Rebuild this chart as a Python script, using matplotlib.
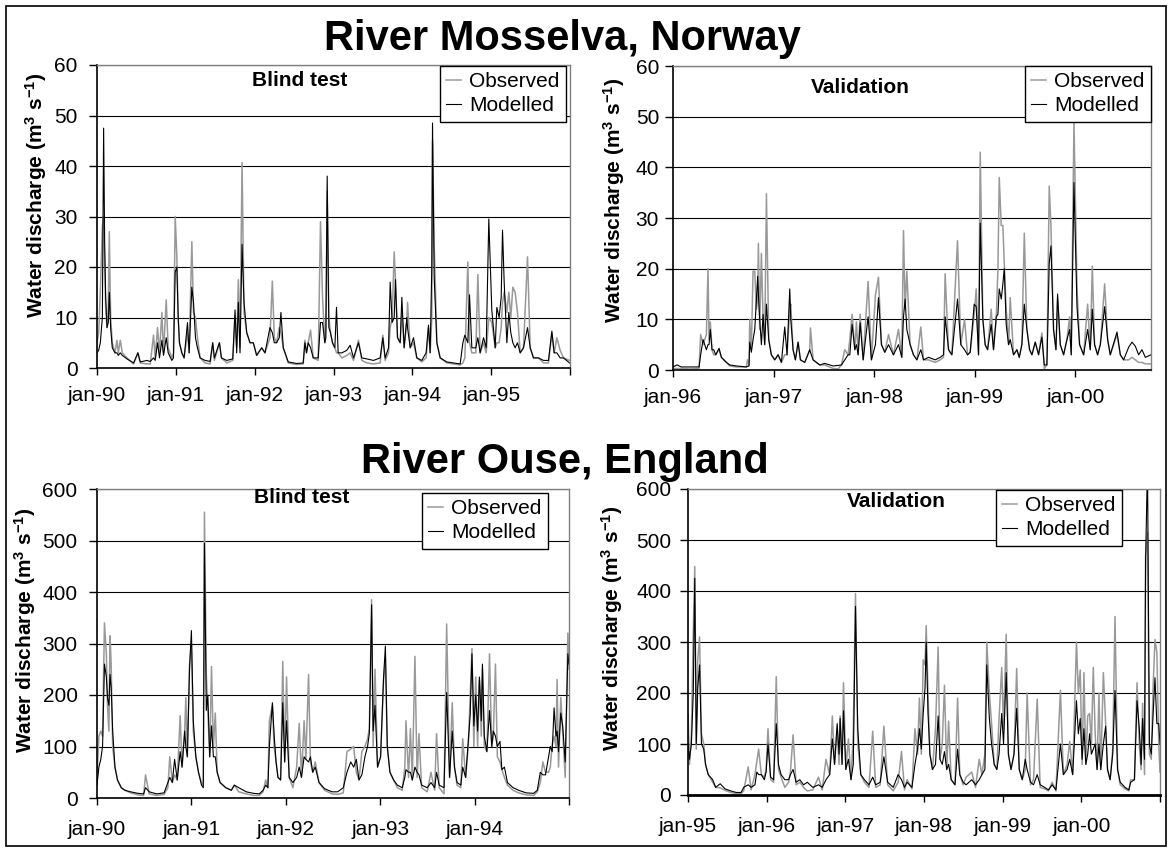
import matplotlib
matplotlib.use('Agg')
import matplotlib.pyplot as plt
from matplotlib.patches import Rectangle

plt.rcParams['font.family'] = 'Liberation Sans'
plt.rcParams['mathtext.fontset'] = 'custom'
plt.rcParams['mathtext.rm'] = 'Liberation Sans:bold'
plt.rcParams['mathtext.it'] = 'Liberation Sans:bold'
plt.rcParams['mathtext.bf'] = 'Liberation Sans:bold'

# ---- River Mosselva, blind test (decimal year, m3/s) ----
mos_blind_t = [1990.000, 1990.021, 1990.042, 1990.068, 1990.084, 1990.097, 1990.110, 1990.127, 1990.143, 1990.156,
               1990.173, 1990.194, 1990.228, 1990.253, 1990.270, 1990.295, 1990.321, 1990.380, 1990.464, 1990.519,
               1990.549, 1990.633, 1990.675, 1990.717, 1990.738, 1990.768, 1990.793, 1990.823, 1990.844, 1990.878,
               1990.903, 1990.949, 1990.970, 1990.992, 1991.013, 1991.030, 1991.046, 1991.076, 1991.105, 1991.148,
               1991.169, 1991.203, 1991.224, 1991.249, 1991.274, 1991.308, 1991.371, 1991.435, 1991.468, 1991.489,
               1991.553, 1991.578, 1991.646, 1991.722, 1991.751, 1991.772, 1991.793, 1991.814, 1991.840, 1991.865,
               1991.899, 1991.941, 1991.983, 1992.025, 1992.089, 1992.131, 1992.194, 1992.224, 1992.249, 1992.278,
               1992.312, 1992.333, 1992.363, 1992.426, 1992.532, 1992.616, 1992.637, 1992.658, 1992.679, 1992.709,
               1992.743, 1992.806, 1992.835, 1992.861, 1992.890, 1992.903, 1992.920, 1992.941, 1992.962, 1992.987,
               1993.017, 1993.038, 1993.059,
               1993.106, 1993.169, 1993.211, 1993.254, 1993.317, 1993.359, 1993.423, 1993.507, 1993.592, 1993.626,
               1993.655, 1993.698, 1993.719, 1993.744, 1993.770, 1993.786, 1993.812, 1993.846, 1993.867, 1993.896,
               1993.930, 1993.939, 1993.973, 1994.015, 1994.057, 1994.120, 1994.175, 1994.205, 1994.226, 1994.247,
               1994.256, 1994.277, 1994.311, 1994.353, 1994.438, 1994.607, 1994.641, 1994.666, 1994.704, 1994.725,
               1994.755, 1994.805, 1994.831, 1994.860, 1994.903, 1994.937, 1994.970, 1995.008, 1995.051, 1995.072,
               1995.101, 1995.127, 1995.144, 1995.165, 1995.199, 1995.224, 1995.249, 1995.275, 1995.304, 1995.334,
               1995.368, 1995.410, 1995.461, 1995.495, 1995.537, 1995.600, 1995.664, 1995.727, 1995.770, 1995.799,
               1995.833, 1995.875, 1995.918, 1995.994]
mos_blind_obs = [5, 7, 15, 28, 30, 20, 12, 8, 12, 27, 10, 5, 3, 5.5, 3, 5.5, 3, 2, 0.8, 3,
                 1, 0.8, 0.8, 6.5, 2, 8, 3, 11, 3, 13.5, 4, 2, 3, 30, 22, 10, 5, 3, 2, 7,
                 3, 25, 11, 10, 6, 2, 1, 0.8, 5, 1.5, 5, 2, 1, 1.5, 10, 4, 17.5, 4, 40.7, 11,
                 7, 5, 5, 2.5, 4, 3, 6, 17.2, 6, 5, 8, 7, 4, 1, 0.7, 0.8, 5.5, 3, 5, 7.5,
                 2, 1.5, 29, 14, 5, 8, 35, 10, 7, 5, 4, 3, 3,
                 2, 2.5, 3, 1.5, 5.5, 1.5, 1, 0.8, 1, 6.5, 1.5, 3, 8, 10, 23, 17.5, 6, 5, 11, 4,
                 9, 13, 4, 5, 2, 1.2, 2, 8, 3, 10, 45, 25, 5, 2, 1, 0.6, 1, 2, 21, 5,
                 3, 3, 18.5, 3, 5, 3, 10, 9, 4, 5, 5, 8, 13, 15, 11, 15, 10, 16, 15, 11,
                 3, 4, 22, 4, 2, 2, 1, 1, 6.8, 3, 6, 3.5, 2, 1.5]
mos_blind_mod = [3, 3.5, 5, 10, 47.5, 25, 14, 8, 9, 15, 8, 4, 3, 3, 2.5, 3, 2.5, 1.8, 1.0, 3,
                 1.2, 1.5, 1.3, 2, 1.5, 5, 2, 5.5, 2.5, 6, 3, 1.5, 2, 19, 20, 10, 5, 3, 2, 9,
                 3, 16, 13, 6, 4, 2, 1.5, 1.3, 5, 2, 5, 2, 1.5, 1.8, 11.5, 3, 13, 3, 24.5, 13,
                 7, 5, 5, 2.5, 4, 3, 8, 7, 5, 5, 6, 11, 4, 1.2, 0.9, 1, 5, 3, 5, 4,
                 2, 2, 9, 9, 5, 6, 38, 8, 7, 5, 4, 12, 3,
                 3, 3.5, 4.5, 2, 5, 2, 1.8, 1.5, 2, 6, 2, 4, 17, 9, 10, 17.5, 6, 5, 14, 4,
                 10, 8, 4, 6, 2, 1.5, 3, 8.5, 3, 20, 48.5, 18, 5, 2, 1.2, 0.8, 5, 6.5, 5, 14.5,
                 4, 4, 6, 3, 6, 4, 29.5, 11.5, 4, 12, 10, 14, 27.3, 17, 5, 11, 7, 5, 4, 5,
                 3, 4, 8, 4, 2, 2, 1.5, 1.5, 7.3, 3, 3, 2, 2, 1]

# ---- River Mosselva, validation ----
mos_valid_t = [1996.000, 1996.040, 1996.083, 1996.166, 1996.259, 1996.275, 1996.299, 1996.315, 1996.332, 1996.348,
               1996.358, 1996.371, 1996.388, 1996.405, 1996.425, 1996.458, 1996.481, 1996.531, 1996.564, 1996.630,
               1996.730, 1996.740, 1996.756, 1996.763, 1996.779, 1996.796, 1996.813, 1996.829, 1996.842, 1996.849,
               1996.862, 1996.879, 1996.896, 1996.912, 1996.929, 1996.952, 1996.978, 1997.012, 1997.045, 1997.078,
               1997.111, 1997.134, 1997.161, 1997.171, 1997.194, 1997.217, 1997.244, 1997.267, 1997.310, 1997.360,
               1997.367, 1997.393, 1997.459, 1997.509, 1997.592, 1997.642, 1997.675, 1997.708, 1997.741, 1997.758,
               1997.781, 1997.808, 1997.824, 1997.841, 1997.861, 1997.891, 1997.940, 1997.973, 1998.013, 1998.043,
               1998.073, 1998.106,
               1998.143, 1998.192, 1998.242, 1998.275, 1998.292, 1998.308, 1998.325, 1998.358, 1998.391, 1998.425,
               1998.464, 1998.491, 1998.541, 1998.607, 1998.657, 1998.690, 1998.706, 1998.740, 1998.773, 1998.829,
               1998.862, 1998.899, 1998.929, 1998.955, 1998.995, 1999.015, 1999.038, 1999.055, 1999.081, 1999.104,
               1999.128, 1999.164, 1999.187, 1999.214, 1999.231, 1999.244, 1999.264, 1999.280, 1999.294, 1999.313,
               1999.337, 1999.353, 1999.386, 1999.420, 1999.443, 1999.469, 1999.493, 1999.519, 1999.546, 1999.569,
               1999.602, 1999.635, 1999.668, 1999.692, 1999.718, 1999.741, 1999.758, 1999.784, 1999.808, 1999.824,
               1999.851, 1999.884, 1999.917, 1999.944, 1999.960, 1999.987, 2000.017, 2000.043, 2000.083, 2000.123,
               2000.149, 2000.169, 2000.192, 2000.222, 2000.249, 2000.292, 2000.322, 2000.348, 2000.415, 2000.448,
               2000.481, 2000.531, 2000.564, 2000.597, 2000.630, 2000.663, 2000.697, 2000.753]
mos_valid_obs = [0.3, 0.3, 0.3, 0.2, 0.3, 7, 5, 6, 7, 20, 6, 9.5, 4, 3, 3, 4, 2.5, 1.5, 0.8, 0.6,
                 0.6, 2, 1, 10, 4, 19.5, 19.5, 12, 14, 25, 8, 23, 10, 5, 34.8, 6, 3, 2, 3, 1.5,
                 3, 3, 12, 13, 4, 2, 5.5, 2, 1.5, 4, 8.3, 2, 1, 1, 0.3, 0.2, 1, 4, 3, 6,
                 11, 4, 9.5, 3, 11, 2, 17.5, 2, 14.8, 18.3, 5, 3.5,
                 7, 3, 8, 2.5, 27.5, 12, 19.5, 5, 3, 2, 8.5, 2, 2, 1.5, 2, 2.5, 19, 4, 3, 25.5,
                 5, 10, 3, 3.5, 11, 16, 3, 43, 10, 5, 4, 12, 4, 10, 20, 38, 28.5, 28.5, 21, 12,
                 5, 14.3, 3, 4, 2.5, 5, 27, 8, 4, 3, 5.5, 3, 7.3, 0.3, 1, 36.3, 28.5, 8, 4, 14,
                 5, 3, 6, 10.5, 3, 49, 16.5, 5, 3, 13, 4, 20.5, 5, 3, 5, 17, 6, 3, 7, 3,
                 2, 2, 2.5, 2, 1.5, 1.5, 1.2, 1.2]
mos_valid_mod = [0.6, 1.0, 0.6, 0.6, 0.6, 3, 6, 5, 4, 5, 5, 8, 4, 4, 3, 4.3, 2.5, 1.5, 1, 0.8,
                 0.6, 0.7, 0.8, 5.5, 3.5, 6, 8, 14, 18.5, 15, 10, 5, 11, 5, 13, 6, 3, 2, 3, 1.5,
                 8.5, 3, 16, 10, 4, 2, 5.5, 2, 1.5, 4, 3.5, 2, 1, 1.3, 0.8, 0.9, 1, 2, 3, 3,
                 9, 4, 5, 3, 9.3, 2, 10.5, 2, 5, 14.3, 5, 3.5,
                 5, 3, 5, 2.5, 10.5, 14, 8, 5, 3, 2, 4, 2, 2.5, 2, 2.5, 3, 10.5, 4, 3, 14,
                 5, 4, 3, 3.5, 13, 12.5, 3, 29, 10, 5, 4, 9, 4, 10.5, 11, 16, 14, 17, 20, 9,
                 5, 6, 3, 4, 2.5, 5, 13, 8, 4, 3, 5.5, 3, 6.5, 1, 1, 21, 24.5, 8, 4, 15,
                 5, 3, 6, 8, 3, 37, 12.5, 5, 3, 8, 4, 12, 5, 3, 5, 12.5, 6, 3, 7.5, 3,
                 2, 4.5, 5.5, 4.7, 3, 4, 2.5, 3]

# ---- River Ouse, blind test ----
ouse_blind_t = [1990.000, 1990.020, 1990.040, 1990.059, 1990.079, 1990.099, 1990.111, 1990.126, 1990.138, 1990.150,
                1990.166, 1990.190, 1990.217, 1990.257, 1990.296, 1990.356, 1990.435, 1990.494, 1990.514, 1990.553,
                1990.632, 1990.711, 1990.751, 1990.771, 1990.798, 1990.822, 1990.850, 1990.881, 1990.901, 1990.929,
                1990.941, 1990.957, 1990.980, 1991.000, 1991.020, 1991.047, 1991.075, 1991.107, 1991.126, 1991.138,
                1991.158, 1991.174, 1991.194, 1991.213, 1991.233, 1991.253, 1991.273, 1991.304, 1991.364, 1991.423,
                1991.455, 1991.502, 1991.581, 1991.660, 1991.719, 1991.759, 1991.787, 1991.810, 1991.826, 1991.858,
                1991.877, 1991.897, 1991.917, 1991.945, 1991.968, 1991.988, 1992.008, 1992.036, 1992.075, 1992.115,
                1992.142, 1992.166, 1992.194, 1992.213, 1992.241, 1992.261, 1992.285, 1992.312, 1992.352, 1992.411,
                1992.490, 1992.549, 1992.609, 1992.648, 1992.688, 1992.719, 1992.747, 1992.775, 1992.806, 1992.838,
                1992.866, 1992.885, 1992.909, 1992.925, 1992.945, 1992.972, 1993.004, 1993.036, 1993.055, 1993.075,
                1993.103, 1993.142, 1993.182, 1993.233, 1993.261, 1993.273, 1993.300, 1993.320, 1993.340, 1993.368,
                1993.391, 1993.411, 1993.439, 1993.498, 1993.538, 1993.577, 1993.597, 1993.625, 1993.676, 1993.704,
                1993.735, 1993.763, 1993.787, 1993.814, 1993.854, 1993.874, 1993.905, 1993.933, 1993.953, 1993.972,
                1993.992, 1994.012, 1994.032, 1994.051, 1994.071, 1994.083, 1994.103, 1994.130, 1994.158, 1994.182,
                1994.198, 1994.221, 1994.241, 1994.269, 1994.289, 1994.316, 1994.348, 1994.407, 1994.466, 1994.545,
                1994.625, 1994.664, 1994.696, 1994.723, 1994.751, 1994.783, 1994.802, 1994.822, 1994.842, 1994.862,
                1994.874, 1994.889, 1994.913, 1994.933, 1994.960, 1994.988, 1995.000]
ouse_blind_obs = [40, 120, 130, 120, 340, 280, 180, 130, 315, 260, 100, 60, 35, 20, 15, 10, 6, 5, 45, 8,
                  5, 7, 20, 80, 30, 45, 35, 160, 60, 130, 195, 80, 260, 300, 130, 80, 50, 30, 25, 555,
                  240, 170, 80, 255, 100, 165, 50, 30, 20, 15, 25, 12, 8, 5, 5, 12, 35, 20, 150, 180,
                  100, 70, 40, 35, 265, 70, 235, 40, 20, 60, 145, 40, 150, 75, 240, 70, 50, 70, 30, 15,
                  8, 7, 10, 90, 95, 100, 50, 35, 90, 100, 115, 135, 385, 100, 250, 60, 80, 230, 270, 100,
                  50, 35, 20, 15, 60, 150, 40, 135, 35, 275, 40, 125, 20, 12, 50, 15, 125, 20, 8, 338,
                  40, 185, 60, 25, 20, 115, 40, 100, 200, 290, 100, 235, 100, 230, 120, 250, 100, 90, 280, 100,
                  120, 260, 80, 70, 55, 40, 25, 15, 10, 6, 5, 12, 30, 70, 50, 50, 60, 105, 120, 100,
                  230, 60, 195, 130, 40, 320, 250]
ouse_blind_mod = [25, 60, 75, 100, 260, 235, 195, 180, 240, 215, 130, 60, 35, 20, 15, 12, 9, 8, 20, 12,
                  8, 10, 30, 40, 30, 75, 35, 90, 60, 130, 100, 80, 250, 325, 150, 80, 50, 25, 20, 495,
                  170, 200, 80, 140, 80, 80, 50, 30, 20, 15, 25, 20, 12, 9, 8, 15, 25, 20, 100, 185,
                  120, 70, 40, 35, 185, 70, 150, 40, 30, 40, 60, 40, 80, 75, 70, 80, 50, 60, 30, 18,
                  12, 12, 20, 50, 70, 60, 75, 35, 45, 80, 100, 125, 375, 130, 180, 60, 80, 235, 295, 100,
                  50, 35, 25, 20, 40, 55, 50, 50, 35, 60, 50, 45, 25, 20, 30, 20, 50, 25, 20, 205,
                  40, 130, 60, 30, 25, 60, 40, 110, 160, 280, 140, 200, 130, 235, 150, 260, 120, 90, 170, 100,
                  130, 120, 100, 110, 55, 60, 30, 20, 15, 10, 9, 15, 50, 45, 45, 80, 100, 90, 175, 120,
                  130, 90, 165, 140, 70, 280, 260]

# ---- River Ouse, validation ----
ouse_valid_t = [1995.000, 1995.019, 1995.043, 1995.067, 1995.086, 1995.105, 1995.124, 1995.147, 1995.171, 1995.200,
                1995.223, 1995.257, 1995.314, 1995.352, 1995.409, 1995.471, 1995.542, 1995.613, 1995.675, 1995.708,
                1995.765, 1995.803, 1995.851, 1995.875, 1995.898, 1995.932, 1995.970, 1995.993, 1996.017, 1996.050,
                1996.088, 1996.122, 1996.150, 1996.183, 1996.231, 1996.279, 1996.302, 1996.336, 1996.374, 1996.421,
                1996.469, 1996.516, 1996.587, 1996.659, 1996.706, 1996.754, 1996.801, 1996.835, 1996.863, 1996.896,
                1996.920, 1996.934, 1996.958, 1996.977, 1997.006, 1997.039, 1997.072, 1997.101, 1997.129, 1997.158,
                1997.196, 1997.243, 1997.300, 1997.348, 1997.386, 1997.443, 1997.490, 1997.538, 1997.609, 1997.671,
                1997.714, 1997.752, 1997.785, 1997.847, 1997.885, 1997.918, 1997.942, 1997.966, 1997.990, 1998.013,
                1998.028, 1998.051, 1998.075, 1998.108, 1998.146, 1998.180, 1998.203, 1998.232, 1998.260, 1998.289,
                1998.313, 1998.346, 1998.394, 1998.427, 1998.455, 1998.498, 1998.536, 1998.607, 1998.655, 1998.702,
                1998.736, 1998.774, 1998.798, 1998.831, 1998.859, 1998.893, 1998.926, 1998.954, 1998.988, 1999.011,
                1999.045, 1999.073, 1999.106, 1999.144, 1999.178, 1999.211, 1999.249, 1999.287, 1999.311, 1999.354,
                1999.392, 1999.439, 1999.477, 1999.534, 1999.582, 1999.629, 1999.677, 1999.734, 1999.772, 1999.819,
                1999.852, 1999.890, 1999.938, 1999.962, 1999.986, 2000.010, 2000.033, 2000.057, 2000.081, 2000.105,
                2000.128, 2000.152, 2000.176, 2000.200, 2000.224, 2000.247, 2000.280, 2000.309, 2000.333, 2000.366,
                2000.399, 2000.428, 2000.461, 2000.494, 2000.556, 2000.604, 2000.627, 2000.675, 2000.708, 2000.737,
                2000.760, 2000.779, 2000.803, 2000.817, 2000.841, 2000.865, 2000.889, 2000.913, 2000.936, 2000.960,
                2000.984, 2001.000]
ouse_valid_obs = [160, 60, 120, 320, 448, 90, 265, 310, 120, 100, 60, 40, 25, 15, 14, 9, 5, 3, 3, 8,
                  55, 10, 40, 65, 90, 40, 35, 50, 130, 30, 25, 232, 50, 35, 15, 25, 45, 118, 20, 25,
                  15, 8, 10, 35, 10, 70, 40, 155, 60, 130, 60, 155, 60, 220, 50, 110, 30, 120, 395, 100,
                  40, 25, 15, 125, 15, 20, 135, 20, 8, 25, 85, 10, 30, 12, 130, 80, 190, 80, 265, 255,
                  332, 200, 80, 50, 130, 290, 70, 100, 215, 50, 145, 30, 20, 190, 40, 20, 35, 45, 15, 70,
                  40, 80, 300, 200, 140, 60, 50, 150, 250, 130, 315, 80, 50, 80, 248, 50, 30, 50, 200, 20,
                  30, 188, 15, 12, 8, 25, 8, 205, 40, 60, 105, 40, 300, 200, 245, 60, 240, 60, 155, 160,
                  100, 250, 120, 50, 200, 50, 240, 140, 50, 30, 90, 350, 50, 20, 12, 8, 30, 30, 220, 100,
                  50, 180, 40, 470, 515, 80, 70, 215, 305, 280, 100, 45]
ouse_valid_mod = [100, 70, 100, 200, 425, 100, 210, 255, 100, 90, 60, 40, 30, 15, 22, 12, 8, 5, 5, 15,
                  20, 15, 20, 45, 40, 40, 30, 45, 100, 35, 30, 140, 60, 40, 30, 30, 40, 50, 25, 30,
                  20, 25, 15, 20, 15, 30, 40, 110, 60, 140, 80, 150, 60, 165, 50, 70, 30, 60, 370, 130,
                  40, 30, 20, 35, 20, 25, 75, 25, 15, 40, 30, 15, 25, 15, 60, 90, 130, 90, 160, 210,
                  300, 160, 80, 50, 60, 155, 70, 60, 85, 50, 60, 30, 20, 90, 40, 25, 20, 30, 20, 30,
                  40, 50, 255, 150, 100, 60, 50, 80, 160, 100, 240, 80, 50, 80, 170, 50, 30, 70, 50, 25,
                  20, 40, 20, 15, 10, 20, 10, 100, 40, 50, 70, 40, 185, 120, 150, 70, 130, 60, 80, 120,
                  80, 90, 100, 50, 100, 50, 100, 135, 50, 30, 80, 205, 50, 25, 15, 10, 25, 30, 185, 130,
                  60, 150, 70, 460, 650, 100, 80, 160, 230, 140, 140, 100]

W, H = 1170, 849
OBS_COL = '#999999'

panels = [
    dict(t=mos_blind_t, obs=mos_blind_obs, mod=mos_blind_mod, box=(97, 65, 570, 368),
         xlim=(1990, 1996), years=range(1990, 1997), ymax=60, ystep=10,
         sub='Blind test', sub_xy=(0.429, 0.950), leg=(0.9915, 0.9967),
         ylab=(36, 195), ypad=8, xpad=8),
    dict(t=mos_valid_t, obs=mos_valid_obs, mod=mos_valid_mod, box=(673, 66, 1151, 370),
         xlim=(1996, 2000.753), years=range(1996, 2001), ymax=60, ystep=10,
         sub='Validation', sub_xy=(0.391, 0.928), leg=(1.0, 1.0),
         ylab=(614, 200), ypad=4, xpad=8),
    dict(t=ouse_blind_t, obs=ouse_blind_obs, mod=ouse_blind_mod, box=(97, 489, 569, 798),
         xlim=(1990, 1995), years=range(1990, 1996), ymax=600, ystep=100,
         sub='Blind test', sub_xy=(0.434, 0.971), leg=(0.955, 0.987),
         ylab=(25, 630), ypad=8, xpad=11),
    dict(t=ouse_valid_t, obs=ouse_valid_obs, mod=ouse_valid_mod, box=(688, 489, 1160, 795),
         xlim=(1995, 2001), years=range(1995, 2002), ymax=600, ystep=100,
         sub='Validation', sub_xy=(0.441, 0.958), leg=(0.919, 0.997),
         ylab=(612, 628), ypad=6, xpad=11),
]

fig = plt.figure(figsize=(W / 100, H / 100), dpi=100)

for i, p in enumerate(panels):
    l, t, r, b = p['box']
    ax = fig.add_axes([l / W, 1 - b / H, (r - l) / W, (b - t) / H])
    lo, = ax.plot(p['t'], p['obs'], color=OBS_COL, lw=1.1)
    lm, = ax.plot(p['t'], p['mod'], color='black', lw=0.8)
    ax.set_xlim(*p['xlim'])
    ax.set_ylim(0, p['ymax'])

    yrs = list(p['years'])
    ax.set_xticks(yrs)
    labs = ['jan-%02d' % (y % 100) for y in yrs]
    if yrs[-1] >= p['xlim'][1] - 0.01:
        labs[-1] = ''
    ax.set_xticklabels(labs)
    ax.set_yticks(range(0, p['ymax'] + 1, p['ystep']))
    ax.tick_params(axis='x', direction='out', length=5, width=1, pad=p['xpad'], labelsize=15)
    ax.tick_params(axis='y', direction='out', length=6, width=1, pad=p['ypad'], labelsize=15)
    ax.yaxis.grid(True, color='black', lw=0.8)

    for s in ['top', 'right']:
        ax.spines[s].set_color('#808080')
        ax.spines[s].set_linewidth(1)
    for s in ['left', 'bottom']:
        ax.spines[s].set_color('black')
        ax.spines[s].set_linewidth(1.2)
    if i == 3:
        ax.spines['bottom'].set_linewidth(2)

    ax.text(p['sub_xy'][0], p['sub_xy'][1], p['sub'], transform=ax.transAxes,
            ha='center', va='center', fontsize=15, fontweight='bold')

    leg = ax.legend([lo, lm], ['Observed', 'Modelled'], loc='upper right',
                    bbox_to_anchor=p['leg'], bbox_transform=ax.transAxes,
                    fontsize=15, frameon=True, fancybox=False, framealpha=1,
                    edgecolor='black', borderpad=0.3, labelspacing=0.25,
                    handlelength=0.7, handletextpad=0.4, borderaxespad=0)
    leg.get_frame().set_linewidth(1)

    fig.text(p['ylab'][0] / W, 1 - p['ylab'][1] / H,
             r'Water discharge (m$^{3}$ s$^{-1}$)', rotation=90,
             ha='center', va='center', fontsize=15, fontweight='bold')

fig.text(562 / W, 1 - 50 / H, 'River Mosselva, Norway', ha='center', va='baseline',
         fontsize=30, fontweight='bold')
fig.text(565 / W, 1 - 473 / H, 'River Ouse, England', ha='center', va='baseline',
         fontsize=30, fontweight='bold')

fig.patches.append(Rectangle((6 / W, 1 - 846 / H), 1160 / W, 840 / H, transform=fig.transFigure,
                             fill=False, lw=1.2, ec='black'))

fig.savefig('out.png', dpi=100)
